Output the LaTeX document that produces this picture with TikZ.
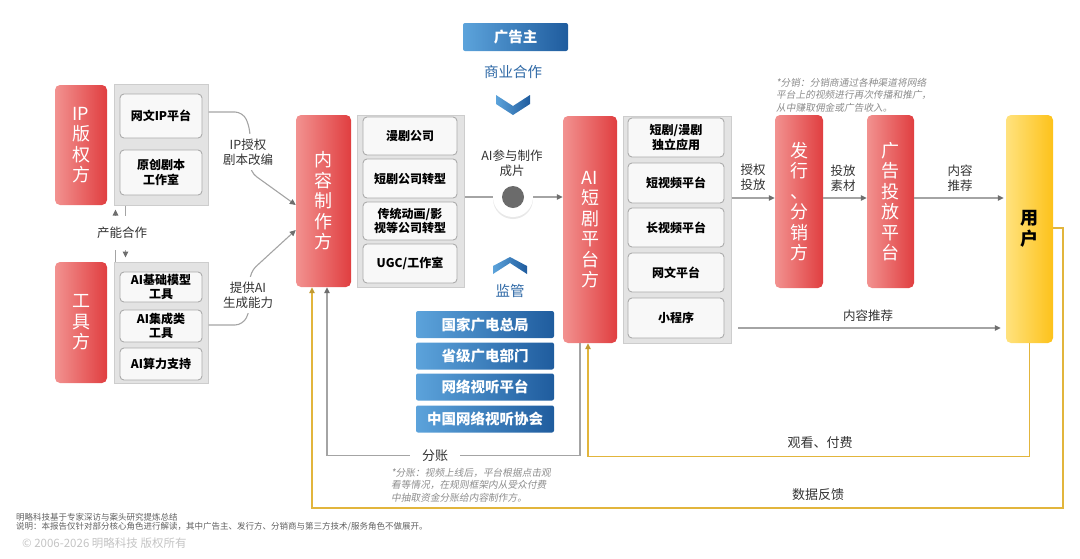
\documentclass[tikz,border=0pt]{standalone}
\usepackage{fontspec}
\setmainfont{Noto Sans CJK SC}
\newfontfamily\notefont{Noto Sans CJK SC}[FakeSlant=0.18]
\usetikzlibrary{arrows.meta,calc,shadows}

\definecolor{redA}{HTML}{F29290}
\definecolor{redB}{HTML}{E03E40}
\definecolor{yelA}{HTML}{FFE27E}
\definecolor{yelB}{HTML}{FDC21A}
\definecolor{bluA}{HTML}{5CA3DB}
\definecolor{bluB}{HTML}{1F5C9E}
\definecolor{bluT}{HTML}{2F69A6}
\definecolor{grpfill}{HTML}{E3E3E3}
\definecolor{grpline}{HTML}{CDCDCD}
\definecolor{cellfill}{HTML}{F8F8F8}
\definecolor{cellline}{HTML}{ABABAB}
\definecolor{flowgrey}{HTML}{A4A4A4}
\definecolor{tipgrey}{HTML}{6E6E6E}
\definecolor{gold}{HTML}{E2B53C}
\definecolor{txt}{HTML}{333333}
\definecolor{notegrey}{HTML}{8C8C8C}
\definecolor{footgrey}{HTML}{606060}
\definecolor{copygrey}{HTML}{C4C4C4}
\definecolor{hubgrey}{HTML}{6B6B6B}

\tikzset{
  role/.style={rounded corners=5pt, left color=redA, right color=redB, text=white,
    align=center, inner sep=0pt, font=\fontsize{18}{20.5}\selectfont},
  group/.style={fill=grpfill, draw=grpline, line width=1pt, inner sep=0pt},
  cell/.style={rounded corners=4pt, fill=cellfill, draw=cellline, line width=0.9pt,
    align=center, inner sep=0pt, text=black, font=\bfseries\fontsize{12}{14.5}\selectfont},
  govbox/.style={rounded corners=2pt, left color=bluA, right color=bluB, text=white,
    minimum width=138pt, minimum height=27pt, inner sep=0pt,
    font=\bfseries\fontsize{14.5}{16}\selectfont},
  lbl/.style={text=txt, align=center, inner sep=1pt, font=\fontsize{12.5}{15}\selectfont},
  note/.style={text=notegrey, align=left, inner sep=0pt, font=\notefont\fontsize{9.7}{12.5}\selectfont},
  foot/.style={text=footgrey, inner sep=0pt, font=\fontsize{8.5}{10}\selectfont},
  flow/.style={draw=flowgrey, line width=1.1pt, -{Triangle[length=6pt,width=5.5pt,color=tipgrey]}},
  goldflow/.style={draw=gold, line width=1.1pt, -{Triangle[length=6pt,width=5.5pt,color=gold!85!black]}},
  chevron/.style={left color=bluA, right color=bluB, draw=none}
}

\begin{document}
\begin{tikzpicture}[x=1pt,y=-1pt]
\useasboundingbox (0,0) rectangle (1080,558);

% left column: rights holders and tool makers
\node[role, minimum width=52pt, minimum height=120pt] (ipside) at (81,145) {IP\\版\\权\\方};
\node[group, minimum width=94pt, minimum height=121pt] (ipgrp) at (161,144.5) {};
\node[cell, minimum width=82pt, minimum height=44pt] (wenip) at (161,116) {网文IP平台};
\node[cell, minimum width=82pt, minimum height=45pt] (script) at (161,172.5) {原创剧本\\工作室};

\node[role, minimum width=52pt, minimum height=121pt] (tool) at (81,322.5) {工\\具\\方};
\node[group, minimum width=94pt, minimum height=121pt] (toolgrp) at (161,322.5) {};
\node[cell, minimum width=82pt, minimum height=30pt] (basemodel) at (161,287) {AI基础模型\\工具};
\node[cell, minimum width=82pt, minimum height=32pt] (integ) at (161,326) {AI集成类\\工具};
\node[cell, minimum width=82pt, minimum height=32pt] (compute) at (161,364) {AI算力支持};

\draw[flow, shorten >=4pt] ($(toolgrp.north west)+(2,0)$) -- ($(ipgrp.south west)+(2,0)$);
\draw[flow, shorten >=4pt] ($(ipgrp.south west)+(12,0)$) -- ($(toolgrp.north west)+(12,0)$);
\node[lbl, fill=white, inner ysep=11pt] (coop) at (122,233) {产能合作};

% content producers
\node[role, minimum width=55pt, minimum height=172pt] (prod) at (323.5,201) {内\\容\\制\\作\\方};
\node[group, minimum width=107pt, minimum height=172pt] (prodgrp) at (410.5,201) {};
\node[cell, minimum width=94pt, minimum height=38pt] (comic) at (410,136) {漫剧公司};
\node[cell, minimum width=94pt, minimum height=39pt] (short) at (410,178.5) {短剧公司转型};
\node[cell, minimum width=94pt, minimum height=38pt] (anim) at (410,221) {传统动画/影\\视等公司转型};
\node[cell, minimum width=94pt, minimum height=39pt] (ugc) at (410,263.5) {UGC/工作室};

\draw[flow, rounded corners=8pt] (ipgrp.east |- 0,112) -- (243,112) -- (250,128) -- (250,172) -- (prod.west |- 0,205);
\node[lbl, fill=white, inner ysep=5pt] (iplic) at (248,152) {IP授权\\剧本改编};
\draw[flow, rounded corners=8pt] (toolgrp.east |- 0,325) -- (243,325) -- (250,310) -- (250,272) -- (prod.west |- 0,230);
\node[lbl, fill=white, inner ysep=5pt] (aigen) at (248,295) {提供AI\\生成能力};

% advertiser and regulators
\node[govbox, minimum width=105pt, minimum height=28pt] (adv) at (515.5,37) {广告主};
\node[text=bluT, inner sep=0pt, font=\fontsize{14.5}{16}\selectfont] (biz) at (513,72) {商业合作};
\path[chevron] (496,95) -- (513,106) -- (530,95) -- (530,104) -- (513,115) -- (496,104) -- cycle;

\path[chevron] (493,274) -- (510,263) -- (527,274) -- (527,266) -- (510,257) -- (493,266) -- cycle;
\node[text=bluT, inner sep=0pt, font=\fontsize{14.5}{16}\selectfont] (reg) at (510,291) {监管};
\node[govbox] (nrta) at (485,324.5) {国家广电总局};
\node[govbox] (prov) at (485,356) {省级广电部门};
\node[govbox] (netav) at (485,387) {网络视听平台};
\node[govbox] (cnsa) at (485,419) {中国网络视听协会};

% AI short drama platforms
\node[role, minimum width=54pt, minimum height=227pt] (plat) at (590,229.5) {AI\\短\\剧\\平\\台\\方};
\node[group, minimum width=108pt, minimum height=227pt] (platgrp) at (677,229.5) {};
\node[cell, minimum width=96pt, minimum height=39pt] (app) at (676,137.5) {短剧/漫剧\\独立应用};
\node[cell, minimum width=96pt, minimum height=40pt] (shortvid) at (676,183) {短视频平台};
\node[cell, minimum width=96pt, minimum height=39pt] (longvid) at (676,227.5) {长视频平台};
\node[cell, minimum width=96pt, minimum height=39pt] (novel) at (676,272.5) {网文平台};
\node[cell, minimum width=96pt, minimum height=40pt] (mini) at (676,318) {小程序};

\draw[flow] (prodgrp.east |- 0,197) -- (plat.west |- 0,197);
\node[circle, fill=white, minimum size=40pt, inner sep=0pt,
  drop shadow={opacity=0.18, shadow xshift=0pt, shadow yshift=-2pt}] (hub) at (513,197) {};
\node[circle, fill=hubgrey, minimum size=22pt, inner sep=0pt] (hubdot) at (hub) {};
\node[lbl] (aimake) at (512,163) {AI参与制作\\成片};

% distribution chain
\node[role, minimum width=48pt, minimum height=173pt] (dist) at (799,201.5) {发\\行\\、\\分\\销\\方};
\node[role, minimum width=47pt, minimum height=173pt] (adplat) at (890.5,201.5) {广\\告\\投\\放\\平\\台};
\node[rounded corners=5pt, left color=yelA, right color=yelB, minimum width=47pt,
  minimum height=228pt, inner sep=0pt, align=center,
  font=\bfseries\fontsize{18}{20.5}\selectfont] (user) at (1029.5,229) {用\\户};

\draw[flow] (platgrp.east |- 0,198) -- (dist.west |- 0,198);
\node[lbl] (grant) at (753,177) {授权\\投放};
\draw[flow] (dist.east |- 0,198) -- (adplat.west |- 0,198);
\node[lbl] (material) at (843,178) {投放\\素材};
\draw[flow, shorten >=2pt] (adplat.east |- 0,198) -- (user.west |- 0,198);
\node[lbl] (rec) at (960,178) {内容\\推荐};
\draw[flow, shorten >=5pt] (738,328) -- (user.west |- 0,328);
\node[lbl] (rec2) at (868,316) {内容推荐};

\node[note, anchor=west] (distnote) at (776,95) {*分销：分销商通过各种渠道将网络\\平台上的视频进行再次传播和推广，\\从中赚取佣金或广告收入。};

% money and data loops
\draw[flow] ($(plat.south)+(-10,0)$) -- ++(0,112) -| ($(prod.south)+(3.5,0)$);
\node[lbl, fill=white, inner xsep=12pt, font=\fontsize{13}{15}\selectfont] (split) at (435,456) {分账};
\node[note, anchor=west] (splitnote) at (391,485) {*分账：视频上线后，平台根据点击观\\看等情况，在规则框架内从受众付费\\中抽取资金分账给内容制作方。};

\draw[goldflow] (user.south) -- ++(0,113) -| ($(plat.south)+(-2,0)$);
\node[lbl, font=\fontsize{13}{15}\selectfont] (watch) at (820,443) {观看、付费};
\draw[goldflow] (user.east |- 0,228) -- (1063,228) -- (1063,508) -| ($(prod.south)+(-11.5,0)$);
\node[lbl, font=\fontsize{13}{15}\selectfont] (feedback) at (818,495) {数据反馈};

% footer
\node[foot, anchor=west] (src) at (16,517) {明略科技基于专家深访与案头研究提炼总结};
\node[foot, anchor=west] (expl) at (16,527) {说明：本报告仅针对部分核心角色进行解读，其中广告主、发行方、分销商与第三方技术/服务角色不做展开。};
\node[anchor=west, inner sep=0pt, text=copygrey, font=\fontsize{11.5}{13}\selectfont] (copy) at (22,543) {© 2006-2026 明略科技 版权所有};
\end{tikzpicture}
\end{document}
